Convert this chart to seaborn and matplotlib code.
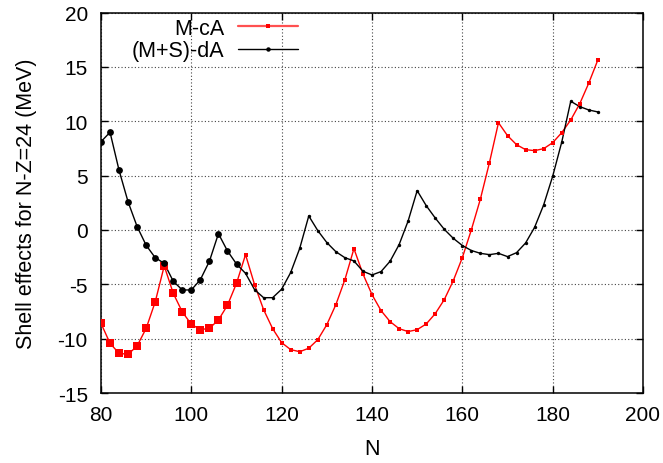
import matplotlib
matplotlib.use("Agg")
import matplotlib.pyplot as plt
from matplotlib.lines import Line2D
import pandas as pd
import seaborn as sns

# Neutron numbers (N-Z fixed at 24)
N = [80, 82, 84, 86, 88, 90, 92, 94, 96, 98,
     100, 102, 104, 106, 108, 110, 112, 114, 116, 118,
     120, 122, 124, 126, 128, 130, 132, 134, 136, 138,
     140, 142, 144, 146, 148, 150, 152, 154, 156, 158,
     160, 162, 164, 166, 168, 170, 172, 174, 176, 178,
     180, 182, 184, 186, 188, 190]

# Shell effects (MeV)
m_ca = [-8.59, -10.43, -11.35, -11.44, -10.67, -9.05, -6.62, -3.31, -5.83, -7.54,
        -8.68, -9.17, -9.05, -8.28, -6.93, -4.91, -2.27, -5.03, -7.33, -9.08,
        -10.37, -11.01, -11.20, -10.88, -10.09, -8.71, -6.87, -4.57, -1.72, -4.05,
        -5.95, -7.42, -8.43, -9.08, -9.35, -9.17, -8.65, -7.70, -6.41, -4.66,
        -2.55, 0.02, 2.85, 6.19, 9.87, 8.68, 7.85, 7.39, 7.30, 7.48,
        8.03, 8.95, 10.12, 11.62, 13.52, 15.64]

ms_da = [8.12, 8.99, 5.49, 2.58, 0.31, -1.41, -2.55, -3.07, -4.72, -5.52,
         -5.52, -4.57, -2.88, -0.34, -1.93, -3.13, -3.99, -5.49, -6.23, -6.23,
         -5.45, -3.91, -1.69, 1.29, -0.06, -1.16, -2.00, -2.55, -2.85, -3.80,
         -4.14, -3.83, -2.88, -1.35, 0.83, 3.62, 2.24, 1.10, 0.06, -0.77,
         -1.43, -1.89, -2.15, -2.27, -2.15, -2.45, -2.09, -1.20, 0.24, 2.30,
         4.94, 8.07, 11.84, 11.35, 11.04, 10.86]

series_names = ["M-cA", "(M+S)-dA"]
big_marker_max_n = 110  # points up to this N are drawn with larger symbols

x_ticks = [80, 100, 120, 140, 160, 180, 200]
y_ticks = [-15, -10, -5, 0, 5, 10, 15, 20]

df = pd.DataFrame({
    "N": N * 2,
    "value": m_ca + ms_da,
    "series": [series_names[0]] * len(N) + [series_names[1]] * len(N),
})
df["big"] = df["N"] <= big_marker_max_n

sns.set_theme(style="ticks")
plt.rcParams["font.family"] = ["Liberation Sans", "DejaVu Sans"]
plt.rcParams["axes.unicode_minus"] = False
plt.rcParams["text.color"] = "black"
plt.rcParams["axes.labelcolor"] = "black"

fig = plt.figure(figsize=(6.63, 4.64), dpi=100)
ax = fig.add_axes([101 / 663, 1 - 394 / 464, 542 / 663, 380.4 / 464])

colors = {"M-cA": "#ff0000", "(M+S)-dA": "#000000"}
markers = {"M-cA": "s", "(M+S)-dA": "o"}
sizes = {"M-cA": (26, 7), "(M+S)-dA": (24, 6)}

for name in series_names:
    sub = df[df["series"] == name]
    sns.lineplot(data=sub, x="N", y="value", color=colors[name], lw=1.0,
                 ax=ax, legend=False, zorder=3)
    big, small = sizes[name]
    sns.scatterplot(data=sub[sub["big"]], x="N", y="value", color=colors[name],
                    marker=markers[name], s=big, linewidth=0, ax=ax,
                    legend=False, zorder=4)
    sns.scatterplot(data=sub[~sub["big"]], x="N", y="value", color=colors[name],
                    marker=markers[name], s=small, linewidth=0, ax=ax,
                    legend=False, zorder=4)

ax.set_xlim(80, 200)
ax.set_ylim(-15, 20)
ax.set_xticks(x_ticks)
ax.set_yticks(y_ticks)
ax.tick_params(direction="in", length=5, width=1, top=True, right=True,
               labelsize=15, pad=9, colors="black", labelcolor="black")
ax.tick_params(axis="y", pad=9.5)
for sp in ax.spines.values():
    sp.set_linewidth(1.1)
    sp.set_color("black")

ax.grid(True, color="#444444", linestyle=(0, (1, 2)), linewidth=0.8)
ax.set_axisbelow(True)

ax.set_xlabel("N", fontsize=15.5, color="black")
ax.set_ylabel("Shell effects for N-Z=24 (MeV)", fontsize=15.5, color="black")
ax.xaxis.set_label_coords(0.5, -0.118)
ax.yaxis.set_label_coords(-0.118, 0.5)

handles = [
    Line2D([], [], color="#ff5050", lw=1.6, marker="s", markersize=3.4,
           markerfacecolor="#ff0000", markeredgewidth=0),
    Line2D([], [], color="black", lw=1.0, marker="o", markersize=3.2,
           markeredgewidth=0),
]
leg = ax.legend(handles, series_names, loc="upper right",
                bbox_to_anchor=(297.7 / 663, 1 - 19 / 464),
                bbox_transform=fig.transFigure, frameon=False, markerfirst=False,
                fontsize=15.5, handlelength=2.75, handletextpad=0.65,
                borderpad=0, borderaxespad=0, labelspacing=0.05)
for t in leg.get_texts():
    t.set_color("black")

fig.savefig("out.png", dpi=100)
